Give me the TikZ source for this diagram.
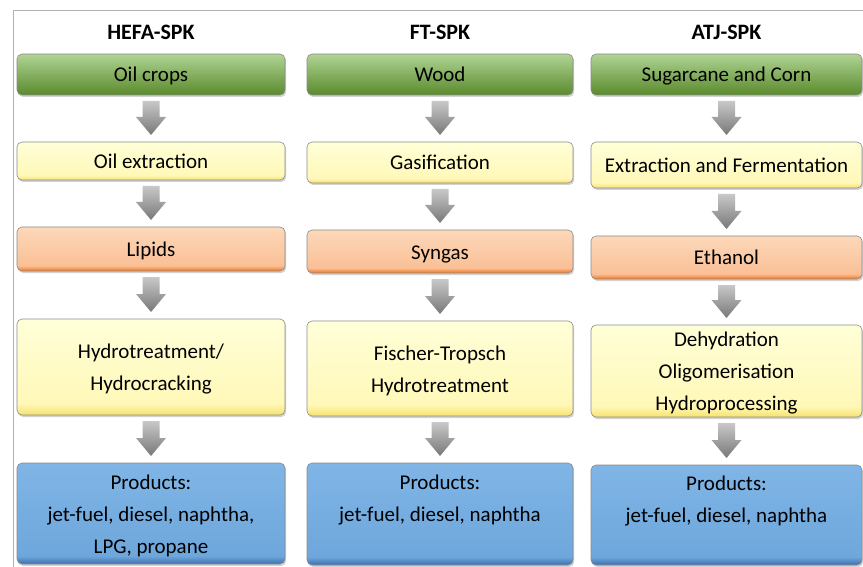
\documentclass[tikz,border=0pt]{standalone}
\usepackage{fontspec}
\setmainfont{Carlito}
\usetikzlibrary{calc,shadows}
\definecolor{gTop}{HTML}{B0D494}
\definecolor{gBot}{HTML}{5A8A2C}
\definecolor{yTop}{HTML}{FFFFD8}
\definecolor{yMid}{HTML}{FFF8B8}
\definecolor{yBot}{HTML}{F7E26E}
\definecolor{oTop}{HTML}{FCD8BA}
\definecolor{oMid}{HTML}{FAC096}
\definecolor{oBot}{HTML}{F27418}
\definecolor{bTop}{HTML}{80B5E6}
\definecolor{bMid}{HTML}{6EA7DC}
\definecolor{bBot}{HTML}{3C6FAE}
\definecolor{aTop}{HTML}{C8C8C8}
\definecolor{aBot}{HTML}{787878}
\definecolor{frameC}{HTML}{B0B0B0}
\pgfdeclareverticalshading{greensh}{100bp}{color(0bp)=(gBot); color(25bp)=(gBot); color(75bp)=(gTop); color(100bp)=(gTop)}
\pgfdeclareverticalshading{yellowsh}{100bp}{color(0bp)=(yBot); color(25bp)=(yBot); color(31bp)=(yMid); color(75bp)=(yTop); color(100bp)=(yTop)}
\pgfdeclareverticalshading{orangesh}{100bp}{color(0bp)=(oBot); color(25bp)=(oBot); color(31bp)=(oMid); color(75bp)=(oTop); color(100bp)=(oTop)}
\pgfdeclareverticalshading{bluesh}{100bp}{color(0bp)=(bBot); color(25bp)=(bBot); color(29bp)=(bMid); color(75bp)=(bTop); color(100bp)=(bTop)}
\newcommand\toprl{\rule{0pt}{19pt}}
\newcommand\botrl{\rule[-4pt]{0pt}{0pt}}
\tikzset{
  box/.style={rounded corners=5pt, draw=black!45, line width=0.6pt, align=center,
    inner sep=0pt, outer sep=0pt,
    font=\fontsize{21}{32}\selectfont,
    drop shadow={shadow xshift=1.2pt, shadow yshift=-2pt, opacity=0.35}},
  greenbox/.style={box, shading=greensh},
  yellowbox/.style={box, shading=yellowsh},
  orangebox/.style={box, shading=orangesh},
  bluebox/.style={box, shading=bluesh},
  head/.style={font=\fontsize{22}{26}\selectfont\bfseries, anchor=base},
  arr/.style={top color=aTop, bottom color=aBot, draw=none},
}
\begin{document}
\begin{tikzpicture}[x=1pt, y=-1pt]
\useasboundingbox (0,0) rectangle (863,567);
\fill[white] (0,0) rectangle (863,567);
\draw[frameC, line width=1pt] (13,567) -- (13,11) -- (863,11);
% headings
\node[head] (t1) at (151,40) {HEFA-SPK};
\node[head] (t2) at (440,40) {FT-SPK};
\node[head] (t3) at (726.5,40) {ATJ-SPK};
% column 1
\node[greenbox, minimum width=268pt, minimum height=41pt] (a1) at (151,74.5) {\toprl Oil crops\botrl};
\node[yellowbox, minimum width=268pt, minimum height=38pt] (a2) at (151,161) {\toprl Oil extraction\botrl};
\node[orangebox, minimum width=268pt, minimum height=44pt] (a3) at (151,249) {\toprl Lipids\botrl};
\node[yellowbox, minimum width=268pt, minimum height=96pt] (a4) at (151,367) {\toprl Hydrotreatment/\\Hydrocracking\botrl};
\node[bluebox, minimum width=268pt, minimum height=101pt] (a5) at (151,513.5) {\toprl Products:\\jet-fuel, diesel, naphtha,\\LPG, propane\botrl};
% column 2
\node[greenbox, minimum width=266pt, minimum height=41pt] (b1) at (440,74.5) {\toprl Wood\botrl};
\node[yellowbox, minimum width=266pt, minimum height=41pt] (b2) at (440,162.5) {\toprl Gasification\botrl};
\node[orangebox, minimum width=266pt, minimum height=43pt] (b3) at (440,251.5) {\toprl Syngas\botrl};
\node[yellowbox, minimum width=266pt, minimum height=95pt] (b4) at (440,368.5) {\toprl Fischer-Tropsch\\Hydrotreatment\botrl};
\node[bluebox, minimum width=266pt, minimum height=102pt] (b5) at (440,514) {\toprl Products:\\jet-fuel, diesel, naphtha\\\botrl};
% column 3
\node[greenbox, minimum width=271pt, minimum height=41pt] (c1) at (726.5,74.5) {\toprl Sugarcane and Corn\botrl};
\node[yellowbox, minimum width=271pt, minimum height=46pt] (c2) at (726.5,165) {\toprl Extraction and Fermentation\botrl};
\node[orangebox, minimum width=271pt, minimum height=43pt] (c3) at (726.5,257.5) {\toprl Ethanol\botrl};
\node[yellowbox, minimum width=271pt, minimum height=92pt] (c4) at (726.5,371) {\toprl Dehydration\\Oligomerisation\\Hydroprocessing\botrl};
\node[bluebox, minimum width=271pt, minimum height=100pt] (c5) at (726.5,515) {\toprl Products:\\jet-fuel, diesel, naphtha\\\botrl};
% block arrows
\foreach \u/\v in {a1/a2,a2/a3,a3/a4,a4/a5,b1/b2,b2/b3,b3/b4,b4/b5,c1/c2,c2/c3,c3/c4,c4/c5}{
  \path[arr] let \p1=(\u.south), \p2=(\v.north) in
    (\x1-8.5pt,\y1-6pt) -- (\x1+8.5pt,\y1-6pt) -- (\x1+8.5pt,\y2+25pt) -- (\x1+15pt,\y2+25pt)
    -- (\x1,\y2+7pt) -- (\x1-15pt,\y2+25pt) -- (\x1-8.5pt,\y2+25pt) -- cycle;
}
\end{tikzpicture}
\end{document}
